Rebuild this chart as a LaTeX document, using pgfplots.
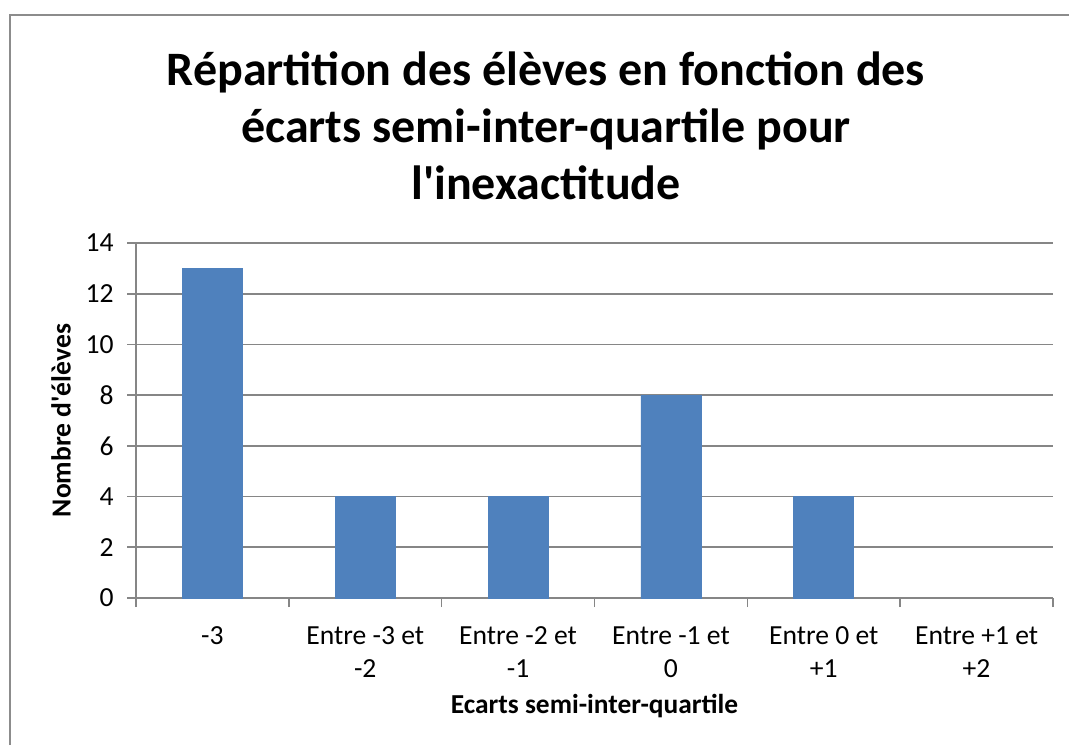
\documentclass[border=0pt]{standalone}
\usepackage{pgfplots}
\pgfplotsset{compat=1.18}
\usepackage{fontspec}
\setmainfont{Carlito}
\definecolor{barblue}{HTML}{4F81BD}
\definecolor{gridgray}{HTML}{868686}
\definecolor{bordergray}{HTML}{8C8C8C}
\begin{document}
\begin{tikzpicture}
\useasboundingbox (0,0) rectangle (534.5pt,372.5pt);
\draw[bordergray, line width=0.8pt] (5pt,0) -- (5pt,365pt) -- (534.5pt,365pt);
\begin{axis}[
  at={(68pt,73.5pt)}, anchor=south west,
  scale only axis, width=458.5pt, height=177.5pt,
  xmin=-0.5, xmax=5.5, ymin=0, ymax=14,
  ytick={0,2,...,14},
  xtick={0,...,5},
  xticklabels={{-3},{Entre -3 et\\-2},{Entre -2 et\\-1},{Entre -1 et\\0},{Entre 0 et\\+1},{Entre +1 et\\+2}},
  minor xtick={-0.5,0.5,...,5.5},
  axis x line*=bottom, axis y line*=left,
  axis line style={gridgray, line width=0.8pt, -},
  ymajorgrids, grid style={gridgray, line width=0.8pt},
  tick align=outside,
  major tick length=4.5pt, minor tick length=4.5pt,
  x tick style={draw=none},
  minor x tick style={draw=gridgray, line width=0.8pt},
  y tick style={gridgray, line width=0.8pt},
  tick label style={font=\fontsize{13.8}{16.5}\selectfont, text=black},
  /pgf/number format/assume math mode=true,
  yticklabel style={anchor=east, inner sep=0pt, xshift=-6.5pt},
  xticklabel style={align=center, anchor=north, inner sep=0pt, yshift=-9.5pt},
  xlabel={Ecarts semi-inter-quartile},
  label style={font=\bfseries\fontsize{13.7}{16}\selectfont},
  xlabel style={at={(axis description cs:0.5,0)}, anchor=base, yshift=-57.5pt},
]
\addplot[ybar, bar width=30pt, fill=barblue, draw=barblue] coordinates {(0,13) (1,4) (2,4) (3,8) (4,4)};
\end{axis}
\node[rotate=90, anchor=center, font=\bfseries\fontsize{13.8}{16}\selectfont] at (30.5pt,162.25pt) {Nombre d\textquotesingle élèves};
\node[anchor=base, font=\bfseries\fontsize{24}{29}\selectfont] at (273pt,329.5pt) {Répartition des élèves en fonction des};
\node[anchor=base, font=\bfseries\fontsize{24}{29}\selectfont] at (273pt,301pt) {écarts semi-inter-quartile pour};
\node[anchor=base, font=\bfseries\fontsize{24}{29}\selectfont] at (273pt,272.5pt) {l\textquotesingle inexactitude};
\end{tikzpicture}
\end{document}
